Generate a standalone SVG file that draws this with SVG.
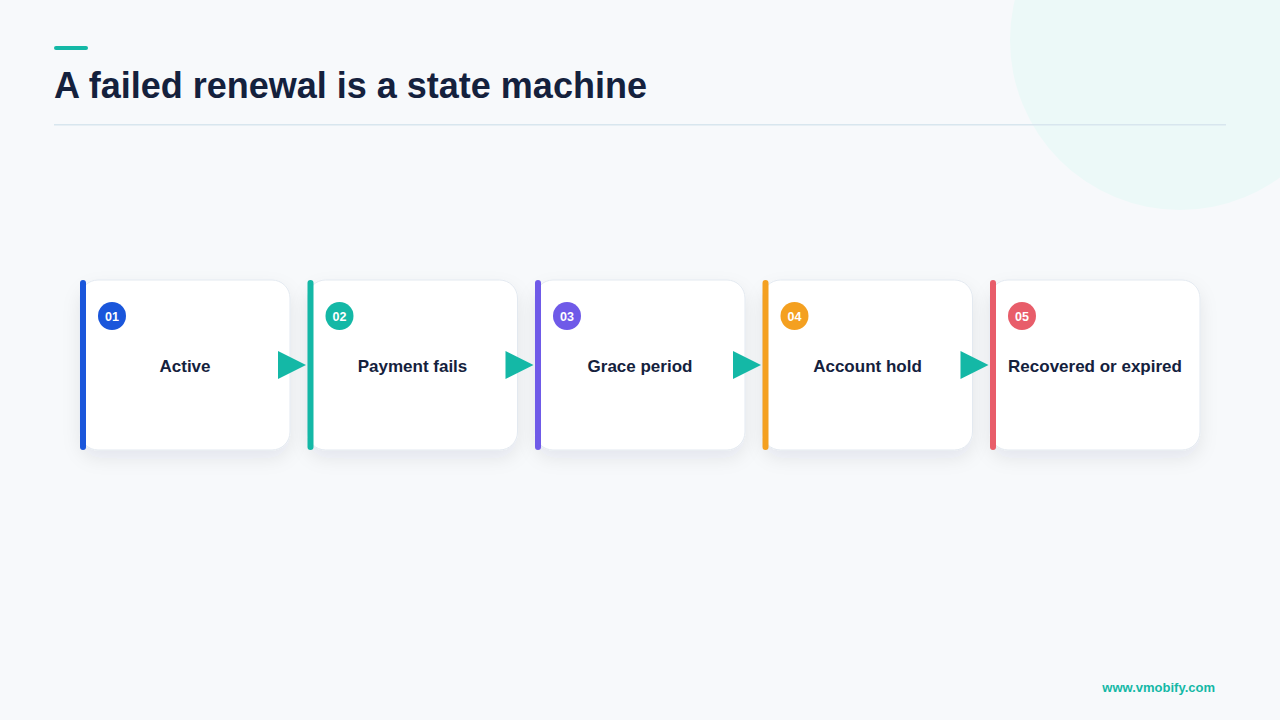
<svg xmlns="http://www.w3.org/2000/svg" width="1280" height="720" viewBox="0 0 1280 720">
<defs>
<filter id="sh" x="-20%" y="-20%" width="140%" height="150%">
<feDropShadow dx="0" dy="8" stdDeviation="9" flood-color="#1e293b" flood-opacity="0.08"/>
</filter>
<style>
.card{fill:#ffffff;stroke:#e3e9f0;stroke-width:1}
.lbl{font-family:"Liberation Sans",Arial,sans-serif;font-weight:700;font-size:17px;fill:#14213d;text-anchor:middle}
.num{font-family:"Liberation Sans",Arial,sans-serif;font-weight:700;font-size:12.5px;fill:#ffffff;text-anchor:middle}
.arr{fill:#14b8a6}
</style>
</defs>
<rect width="1280" height="720" fill="#f7f9fb"/>
<circle cx="1180" cy="40" r="170" fill="#ecf9f8"/>
<rect x="54" y="46" width="34" height="4" rx="2" fill="#14b8a6"/>
<text x="54" y="98" font-family="Liberation Sans,Arial,sans-serif" font-weight="700" font-size="36" fill="#14213d">A failed renewal is a state machine</text>
<rect x="54" y="124" width="1172" height="1.5" fill="#d8e6ee"/>

<g id="node1">
<rect class="card" x="80" y="280" width="210" height="170" rx="18" filter="url(#sh)"/>
<rect x="80" y="280" width="6" height="170" rx="3" fill="#1a56db"/>
<circle cx="112" cy="316" r="14" fill="#1a56db"/>
<text class="num" x="112" y="320.5">01</text>
<text class="lbl" x="185" y="372">Active</text>
</g>
<g id="node2">
<rect class="card" x="307.5" y="280" width="210" height="170" rx="18" filter="url(#sh)"/>
<rect x="307.5" y="280" width="6" height="170" rx="3" fill="#14b8a6"/>
<circle cx="339.5" cy="316" r="14" fill="#14b8a6"/>
<text class="num" x="339.5" y="320.5">02</text>
<text class="lbl" x="412.5" y="372">Payment fails</text>
</g>
<g id="node3">
<rect class="card" x="535" y="280" width="210" height="170" rx="18" filter="url(#sh)"/>
<rect x="535" y="280" width="6" height="170" rx="3" fill="#6f5ae8"/>
<circle cx="567" cy="316" r="14" fill="#6f5ae8"/>
<text class="num" x="567" y="320.5">03</text>
<text class="lbl" x="640" y="372">Grace period</text>
</g>
<g id="node4">
<rect class="card" x="762.5" y="280" width="210" height="170" rx="18" filter="url(#sh)"/>
<rect x="762.5" y="280" width="6" height="170" rx="3" fill="#f4a020"/>
<circle cx="794.5" cy="316" r="14" fill="#f4a020"/>
<text class="num" x="794.5" y="320.5">04</text>
<text class="lbl" x="867.5" y="372">Account hold</text>
</g>
<g id="node5">
<rect class="card" x="990" y="280" width="210" height="170" rx="18" filter="url(#sh)"/>
<rect x="990" y="280" width="6" height="170" rx="3" fill="#e85d6a"/>
<circle cx="1022" cy="316" r="14" fill="#e85d6a"/>
<text class="num" x="1022" y="320.5">05</text>
<text class="lbl" x="1095" y="372">Recovered or expired</text>
</g>

<g id="connectors">
<polygon class="arr" points="278,351 306,365 278,379"/>
<polygon class="arr" points="505.5,351 533.5,365 505.5,379"/>
<polygon class="arr" points="733,351 761,365 733,379"/>
<polygon class="arr" points="960.5,351 988.5,365 960.5,379"/>
</g>

<text x="1215" y="692" text-anchor="end" font-family="Liberation Sans,Arial,sans-serif" font-weight="700" font-size="13" fill="#14b8a6">www.vmobify.com</text>
</svg>
